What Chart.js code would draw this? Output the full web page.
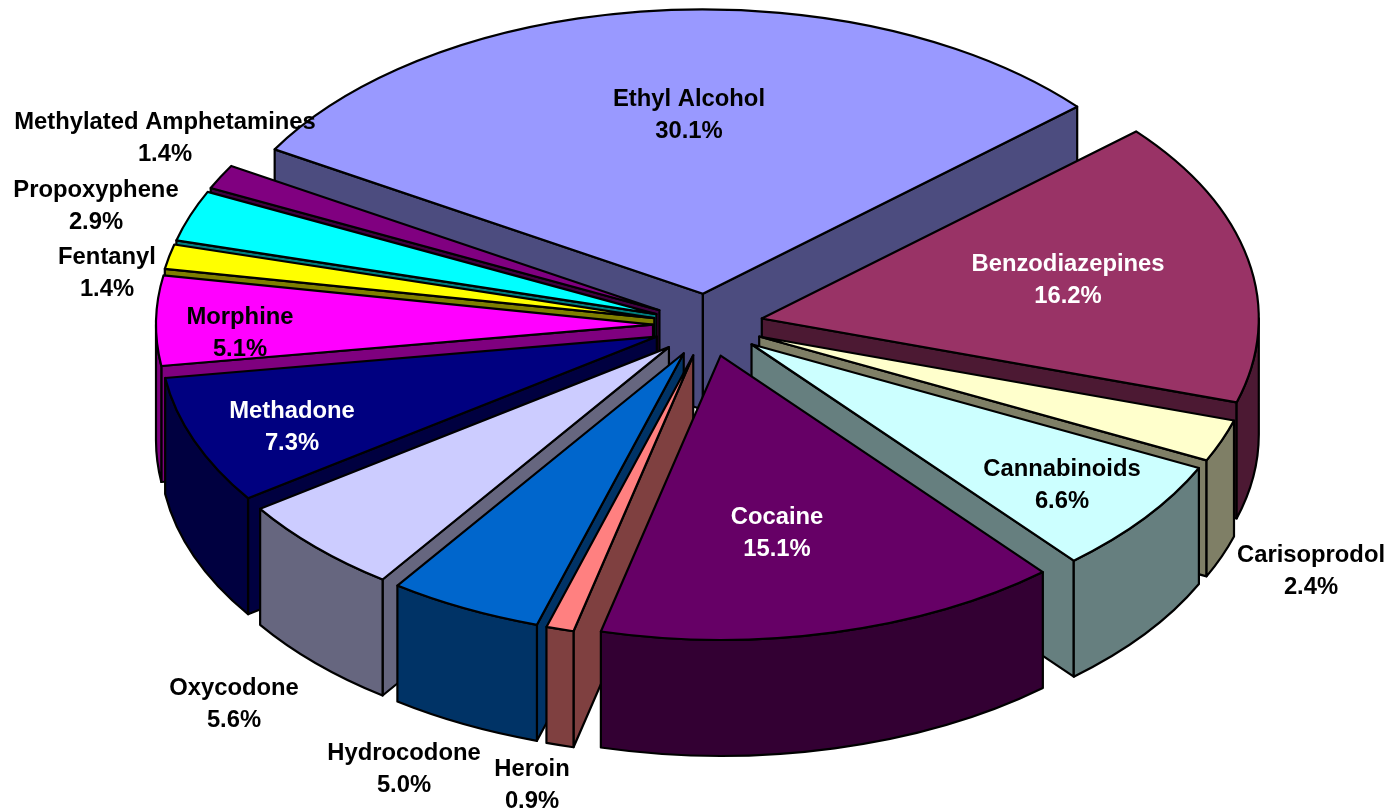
<!DOCTYPE html>
<html>
<head>
<meta charset="utf-8">
<script src="https://cdn.jsdelivr.net/npm/chart.js@4"></script>
<style>
body { margin: 0; background: #fff; }
</style>
</head>
<body>
<canvas id="myChart" width="1393" height="812"></canvas>
<script>
const categorias = ["Ethyl Alcohol", "Benzodiazepines", "Carisoprodol", "Cannabinoids", "Cocaine", "Heroin", "Hydrocodone", "Oxycodone", "Methadone", "Morphine", "Fentanyl", "Propoxyphene", "Methylated Amphetamines"];
const valores = [30.1, 16.2, 2.4, 6.6, 15.1, 0.9, 5.0, 5.6, 7.3, 5.1, 1.4, 2.9, 1.4];
const cores = ["#9999FF", "#993366", "#FFFFCC", "#CCFFFF", "#660066", "#FF8080", "#0066CC", "#CCCCFF", "#000080", "#FF00FF", "#FFFF00", "#00FFFF", "#800080"];
const coresTexto = ["#000", "#fff", "#000", "#000", "#fff", "#000", "#000", "#000", "#fff", "#000", "#000", "#000", "#000"];
// centre of each label block, placed by hand like the original
const labelX = [689, 1068, 1311, 1062, 777, 532, 404, 234, 292, 240, 107, 96, 165];
const labelY = [99, 264, 555, 469, 517, 769, 753, 688, 411, 317, 257, 190, 122];

const ACHATAR = 0.572;   // ellipse height / width
const ALTURA = 116;      // thickness of the pie

function escurecer(hex) {
    const n = parseInt(hex.slice(1), 16);
    const r = (n >> 16) >> 1, g = ((n >> 8) & 255) >> 1, b = (n & 255) >> 1;
    return "rgb(" + r + "," + g + "," + b + ")";
}

function desenhaFatia(ctx, arc) {
    const a = arc.startAngle, b = arc.endAngle, R = arc.outerRadius;
    const meio = (a + b) / 2, off = arc.options.offset;
    const x0 = arc.x + Math.cos(meio) * off;
    const y0 = arc.y + Math.sin(meio) * off * ACHATAR;
    const Ry = R * ACHATAR;
    const cor = arc.options.backgroundColor;
    const lateral = escurecer(cor);

    ctx.lineWidth = 2.2;
    ctx.lineJoin = "round";
    ctx.strokeStyle = "#000";

    // straight walls, only those that face the viewer
    [a, b].forEach((ang, i) => {
        const visivel = i === 0 ? Math.cos(ang) < 0 : Math.cos(ang) > 0;
        if (!visivel) return;
        const px = x0 + Math.cos(ang) * R, py = y0 + Math.sin(ang) * Ry;
        ctx.beginPath();
        ctx.moveTo(x0, y0);
        ctx.lineTo(px, py);
        ctx.lineTo(px, py + ALTURA);
        ctx.lineTo(x0, y0 + ALTURA);
        ctx.closePath();
        ctx.fillStyle = lateral;
        ctx.fill();
        ctx.stroke();
    });

    // curved wall, front half only
    const de = Math.max(a, 0), ate = Math.min(b, Math.PI);
    if (ate > de) {
        ctx.beginPath();
        ctx.ellipse(x0, y0, R, Ry, 0, de, ate);
        ctx.ellipse(x0, y0 + ALTURA, R, Ry, 0, ate, de, true);
        ctx.closePath();
        ctx.fillStyle = lateral;
        ctx.fill();
        ctx.stroke();
    }

    // top
    ctx.beginPath();
    ctx.moveTo(x0, y0);
    ctx.ellipse(x0, y0, R, Ry, 0, a, b);
    ctx.closePath();
    ctx.fillStyle = cor;
    ctx.fill();
    ctx.stroke();
}

const pizza3d = {
    id: "pizza3d",
    beforeDatasetDraw(chart, args) {
        const ctx = chart.ctx;
        const arcos = args.meta.data.slice();
        // back slices first
        arcos.sort((p, q) => Math.sin((p.startAngle + p.endAngle) / 2) - Math.sin((q.startAngle + q.endAngle) / 2));
        ctx.save();
        arcos.forEach(arc => desenhaFatia(ctx, arc));
        ctx.restore();
        return false;
    },
    afterDatasetsDraw(chart) {
        const ctx = chart.ctx;
        ctx.save();
        ctx.font = "bold 23.8px 'Liberation Sans'";
        ctx.textAlign = "center";
        ctx.textBaseline = "middle";
        categorias.forEach((nome, i) => {
            ctx.fillStyle = coresTexto[i];
            ctx.fillText(nome, labelX[i], labelY[i]);
            ctx.fillText(valores[i].toFixed(1) + "%", labelX[i], labelY[i] + 32);
        });
        ctx.restore();
    }
};

new Chart("myChart", {
    type: "pie",
    data: {
        labels: categorias,
        datasets: [{
            data: valores,
            backgroundColor: cores,
            borderColor: "#000",
            borderWidth: 1,
            offset: 55
        }]
    },
    options: {
        responsive: false,
        animation: false,
        rotation: -59.5,
        radius: 497,
        events: [],
        layout: { padding: { left: 23, bottom: 162 } },
        plugins: { legend: { display: false }, tooltip: { enabled: false } }
    },
    plugins: [pizza3d]
});
</script>
</body>
</html>
